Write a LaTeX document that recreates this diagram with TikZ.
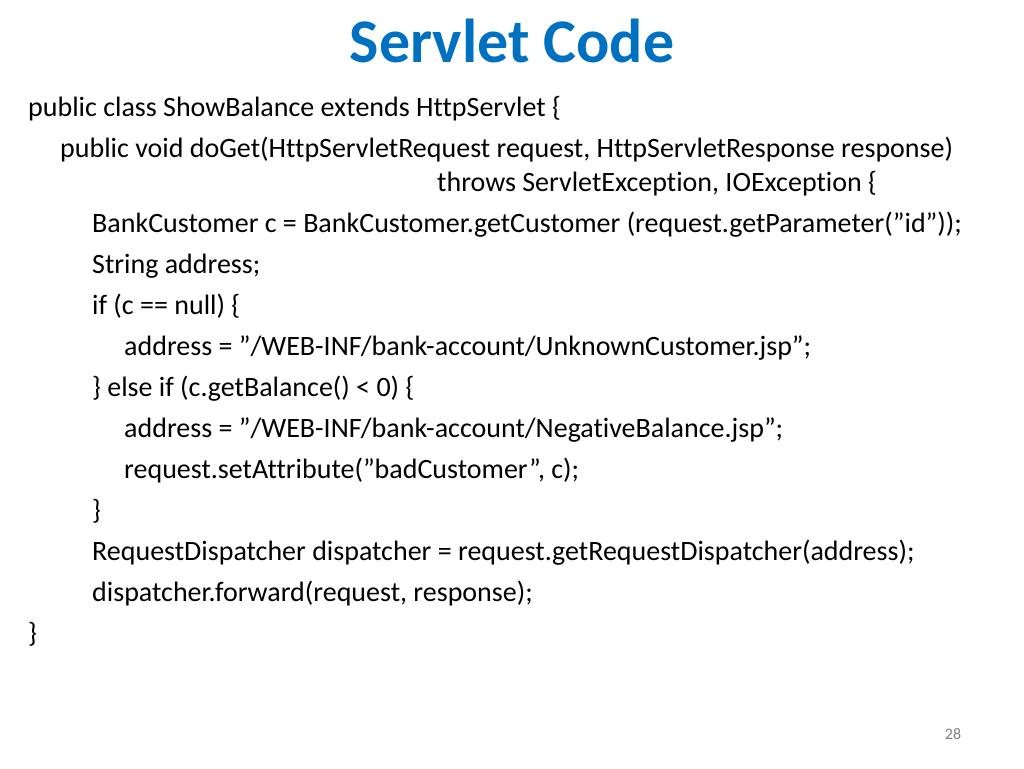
\documentclass[tikz,border=0pt]{standalone}
\usepackage{fontspec}
\setmainfont{Carlito}[Ligatures={NoCommon}]
\definecolor{titleblue}{RGB}{0,112,192}
\newcommand\qq{\char34\relax}
\begin{document}
\begin{tikzpicture}[x=1pt,y=-1pt,
  code/.style={anchor=base west,inner sep=0pt,font=\fontsize{28}{32}\selectfont}]
\useasboundingbox (0,0) rectangle (1024,768);
\node[anchor=base,inner sep=0pt,font=\fontsize{62}{70}\selectfont\bfseries,text=titleblue] (title) at (512,63) {Servlet Code};
\node[code] (l1) at (28,116) {public class ShowBalance extends HttpServlet \{};
\node[code] (l2) at (60,157) {public void doGet(HttpServletRequest request, HttpServletResponse response)};
\node[code] (l3) at (437,191) {throws ServletException, IOException \{};
\node[code] (l4) at (92,232) {BankCustomer c = BankCustomer.getCustomer (request.getParameter(\qq id\qq));};
\node[code] (l5) at (92,273) {String address;};
\node[code] (l6) at (92,314) {if (c == null) \{};
\node[code] (l7) at (124,355) {address = \qq/WEB-INF/bank-account/UnknownCustomer.jsp\qq;};
\node[code] (l8) at (92,396) {\} else if (c.getBalance() < 0) \{};
\node[code] (l9) at (124,437) {address = \qq/WEB-INF/bank-account/NegativeBalance.jsp\qq;};
\node[code] (l10) at (124,478) {request.setAttribute(\qq badCustomer\qq, c);};
\node[code] (l11) at (92,519) {\}};
\node[code] (l12) at (92,560) {RequestDispatcher dispatcher = request.getRequestDispatcher(address);};
\node[code] (l13) at (92,601) {dispatcher.forward(request, response);};
\node[code] (l14) at (28,642) {\}};
\node[anchor=base,inner sep=0pt,font=\fontsize{16}{18}\selectfont,text=gray] (pg) at (953,739) {28};
\end{tikzpicture}
\end{document}
